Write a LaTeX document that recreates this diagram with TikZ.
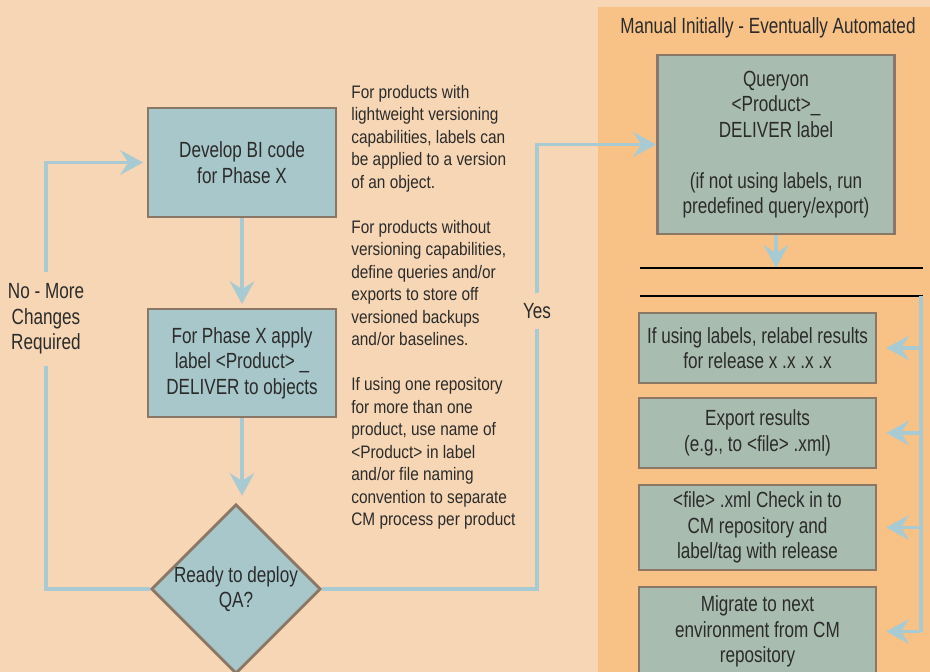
\documentclass[tikz,border=0pt]{standalone}
\usepackage{fontspec}
\setmainfont[FakeStretch=0.78]{Liberation Sans}
\newfontfamily\notefont[FakeStretch=0.85]{Liberation Sans}
\usetikzlibrary{arrows.meta}
\usetikzlibrary{shapes.geometric}
\usetikzlibrary{positioning}
\definecolor{peach}{HTML}{F6D6B4}
\definecolor{panel}{HTML}{F8C287}
\definecolor{leftfill}{HTML}{A8C7CA}
\definecolor{rightfill}{HTML}{A9BCB0}
\definecolor{boxedge}{HTML}{8B7765}
\definecolor{linkblue}{HTML}{A8CBD3}
\definecolor{ink}{HTML}{2B2B2B}
\newcommand\boxsize{\fontsize{12.5}{14.5}\selectfont}
\newcommand\notesize{\notefont\fontsize{10.3}{12.8}\selectfont}
\tikzset{>={Stealth[length=13pt,width=14pt,inset=4.5pt]}}
\tikzset{
    leftbox/.style={draw=boxedge, line width=1.6pt, fill=leftfill, text=ink, align=center, inner sep=0pt, font=\boxsize},
    rightbox/.style={leftbox, fill=rightfill, minimum width=4.74cm},
    decision/.style={leftbox, diamond, aspect=1},
    lbl/.style={text=ink, align=center, inner sep=0pt, font=\boxsize},
    note/.style={text=ink, align=left, inner sep=0pt, font=\notesize},
    link/.style={draw=linkblue, line width=2pt},
    bar/.style={draw=black, line width=1.5pt},
}

\begin{document}
\begin{tikzpicture}[x=0.02cm,y=-0.02cm]
	\useasboundingbox (0,0) rectangle (930,672);
	\clip (0,0) rectangle (930,672);
	\fill[peach] (0,0) rectangle (930,672);
	\fill[panel] (598,7) rectangle (930,672);
	\node[lbl] (manual) at (768,28) {Manual Initially - Eventually Automated};

	% left flow
	\node[leftbox, minimum width=3.76cm, minimum height=2.18cm] (develop) at (242,162.5) {Develop BI code\\for Phase X};
	\node[leftbox, minimum width=3.76cm, minimum height=2.16cm] (apply) at (242,363) {For Phase X apply\\label <Product> \_\\DELIVER to objects};
	\node[decision, minimum width=3.34cm, minimum height=3.32cm] (ready) at (236,589) {Ready to deploy\\QA?};
	\node[lbl, minimum height=1.88cm] (nomore) at (46,319) {No - More\\Changes\\Required};
	\node[lbl, minimum height=0.72cm] (yes) at (537,311) {Yes};

	\node[note, anchor=north west] (notes) at (351,85) {For products with\\lightweight versioning\\capabilities, labels can\\be applied to a version\\of an object.\\[12.8pt]For products without\\versioning capabilities,\\define queries and/or\\exports to store off\\versioned backups\\and/or baselines.\\[12.8pt]If using one repository\\for more than one\\product, use name of\\<Product> in label\\and/or file naming\\convention to separate\\CM process per product};

	% right panel
	\node[rightbox, minimum height=3.58cm] (query) at (776,144.5) {Queryon\\<Product>\_\\DELIVER label\\[14.5pt](if not using labels, run\\predefined query/export)};
	\node[rightbox, minimum height=1.4cm] (relabel) at (757.5,348) {If using labels, relabel results\\for release x .x .x .x};
	\node[rightbox, minimum height=1.4cm] (export) at (757.5,433) {Export results\\(e.g., to <file> .xml)};
	\node[rightbox, minimum height=1.7cm] (checkin) at (757.5,527.5) {<file> .xml Check in to\\CM repository and\\label/tag with release};
	\node[rightbox, minimum height=1.78cm] (migrate) at (757.5,631.5) {Migrate to next\\environment from CM\\repository};

	\coordinate (bar1w) at (640,268);
	\coordinate (bar1e) at (923,268);
	\coordinate (bar2w) at (640,296);
	\coordinate (bar2e) at (923,296);
	\coordinate (rail) at (921,296);

	\draw[link,->,shorten >=2pt] (develop) -- (apply);
	\draw[link,->,shorten >=4pt] (apply.south) -- (apply.south |- ready.north);
	\draw[link] (ready.west) -| (nomore.south);
	\draw[link,->,shorten >=2pt] (nomore.north) |- (develop.west);
	\draw[link] (ready.east) -| (yes.south);
	\draw[link,->] (yes.north) |- (query.west);
	\draw[link,->] (query.south) -- (query.south |- bar1w);
	\draw[bar] (bar1w) -- (bar1e);
	\draw[bar] (bar2w) -- (bar2e);
	\draw[link] (rail) -- (rail |- migrate.east);
	\foreach \b in {relabel,export,checkin,migrate}
		\draw[link,->,shorten >=5pt] (rail |- \b.east) -- (\b.east);
\end{tikzpicture}
\end{document}
